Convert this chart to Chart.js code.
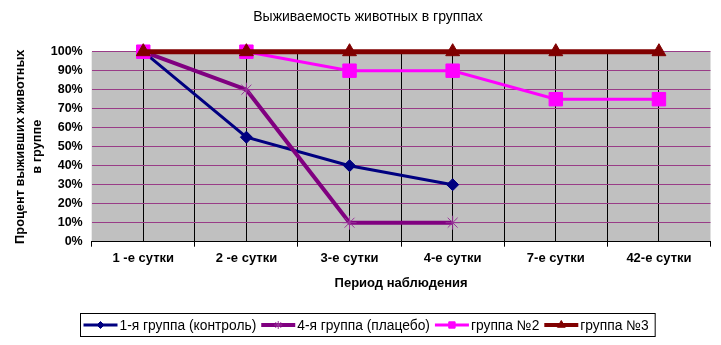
<!DOCTYPE html>
<html>
<head>
<meta charset="utf-8">
<script src="https://cdn.jsdelivr.net/npm/chart.js@4/dist/chart.umd.min.js"></script>
<style>
  html, body { margin: 0; padding: 0; background: #fff; }
  #wrap { width: 721px; height: 345px; }
</style>
</head>
<body>
<div id="wrap"><canvas id="survival" width="721" height="345"></canvas></div>
<script>
const periods = ["1 -е сутки", "2 -е сутки", "3-е сутки", "4-е сутки", "7-е сутки", "42-е сутки"];
const seriesNames = ["1-я группа (контроль)", "4-я группа (плацебо)", "группа №2", "группа №3"];
const control = [100, 55, 40, 30];
const placebo = [100, 80, 10, 10];
const group2 = [100, 100, 90, 90, 75, 75];
const group3 = [100, 100, 100, 100, 100, 100];

const FONT = "'Liberation Sans', Arial, sans-serif";

/* gray plot area */
const plotFill = {
  id: "plotFill",
  beforeDraw(chart){
    const a = chart.chartArea, ctx = chart.ctx;
    ctx.save();
    ctx.fillStyle = "#fff";
    ctx.fillRect(0, 0, chart.width, chart.height);
    ctx.fillStyle = "#c0c0c0";
    ctx.fillRect(a.left, a.top, a.right - a.left, a.bottom - a.top);
    ctx.restore();
  }
};

/* boxed legend below the chart, line sample with a small marker */
const boxLegend = {
  id: "boxLegend",
  afterDraw(chart){
    const ctx = chart.ctx;
    const y = 325;
    const markSize = [3.5, 4, 4.5, 4.5];
    ctx.save();
    ctx.font = "13.8px " + FONT;
    ctx.textBaseline = "middle";
    let x = 83.5;
    chart.data.datasets.forEach((ds, i) => {
      ctx.strokeStyle = ds.borderColor;
      ctx.lineWidth = Math.min(ds.borderWidth, 4);
      ctx.beginPath();
      ctx.moveTo(x, y);
      ctx.lineTo(x + 34, y);
      ctx.stroke();
      ctx.fillStyle = ds.pointBackgroundColor;
      ctx.strokeStyle = ds.pointBorderColor;
      ctx.lineWidth = 1;
      Chart.helpers.drawPoint(ctx, {pointStyle: ds.pointStyle, radius: markSize[i], rotation: 0, borderWidth: 1}, x + 17, y);
      ctx.fillStyle = "#000";
      ctx.fillText(ds.label, x + 36, y + 1);
      x += 36 + ctx.measureText(ds.label).width + 5;
    });
    ctx.strokeStyle = "#000";
    ctx.lineWidth = 1;
    ctx.strokeRect(80.5, 313.5, x - 79, 23);
    ctx.restore();
  }
};

const boundaryLine = ctx => (ctx.type !== "tick" || ctx.index === 0) ? "rgba(0,0,0,0)" : "#000";

new Chart(document.getElementById("survival"), {
  type: "line",
  data: {
    labels: periods,
    datasets: [
      {
        label: seriesNames[0], data: control, order: 3,
        borderColor: "#000080", borderWidth: 3,
        pointStyle: "rectRot", pointRadius: 6,
        pointBackgroundColor: "#000080", pointBorderColor: "#000080", pointBorderWidth: 1
      },
      {
        label: seriesNames[1], data: placebo, order: 2,
        borderColor: "#800080", borderWidth: 4,
        pointStyle: "star", pointRadius: 7,
        pointBackgroundColor: "#800080", pointBorderColor: "#993399", pointBorderWidth: 1
      },
      {
        label: seriesNames[2], data: group2, order: 1,
        borderColor: "#ff00ff", borderWidth: 3,
        pointStyle: "rect", pointRadius: 9.5,
        pointBackgroundColor: "#ff00ff", pointBorderColor: "#ff00ff", pointBorderWidth: 1
      },
      {
        label: seriesNames[3], data: group3, order: 0,
        borderColor: "#800000", borderWidth: 5,
        pointStyle: "triangle", pointRadius: 8,
        pointBackgroundColor: "#800000", pointBorderColor: "#800000", pointBorderWidth: 1
      }
    ]
  },
  options: {
    responsive: false,
    animation: false,
    events: [],
    clip: false,
    layout: {padding: {left: 23, right: 8, top: 0, bottom: 45}},
    elements: {line: {tension: 0}},
    plugins: {
      legend: {display: false},
      tooltip: {enabled: false},
      title: {
        display: true,
        text: "Выживаемость животных в группах",
        color: "#000",
        font: {family: FONT, size: 14, weight: "normal", lineHeight: 1.2},
        padding: {top: 9, bottom: 25.9}
      }
    },
    scales: {
      x: {
        type: "category",
        offset: true,
        afterFit: s => { s.height = 58.3; },
        grid: {offset: true, color: boundaryLine, tickColor: "#000", tickLength: 5, lineWidth: 1},
        border: {display: true, color: "#000", width: 1},
        ticks: {color: "#000", padding: 4, maxRotation: 0, font: {family: FONT, size: 13, weight: "bold"}},
        title: {
          display: true, text: "Период наблюдения", color: "#000",
          font: {family: FONT, size: 13, weight: "bold", lineHeight: 1.2},
          padding: {top: 0, bottom: 9}
        }
      },
      xc: {
        type: "category",
        position: "top",
        offset: true,
        afterFit: s => { s.height = 0; },
        grid: {offset: false, color: "#000", drawTicks: false, lineWidth: 1},
        border: {display: false},
        ticks: {display: false}
      },
      y: {
        min: 0, max: 100,
        afterFit: s => { s.width = 68.7; },
        grid: {color: "#993c87", drawTicks: false, lineWidth: 1},
        border: {display: false},
        ticks: {
          stepSize: 10, padding: 9, color: "#000",
          font: {family: FONT, size: 12.5, weight: "bold"},
          callback: v => v + "%"
        },
        title: {
          display: true, text: ["Процент выживших животных", "в группе"], color: "#000",
          font: {family: FONT, size: 12.8, weight: "bold", lineHeight: 1.34},
          padding: {top: -11.3, bottom: 0}
        }
      }
    }
  },
  plugins: [plotFill, boxLegend]
});
</script>
</body>
</html>
